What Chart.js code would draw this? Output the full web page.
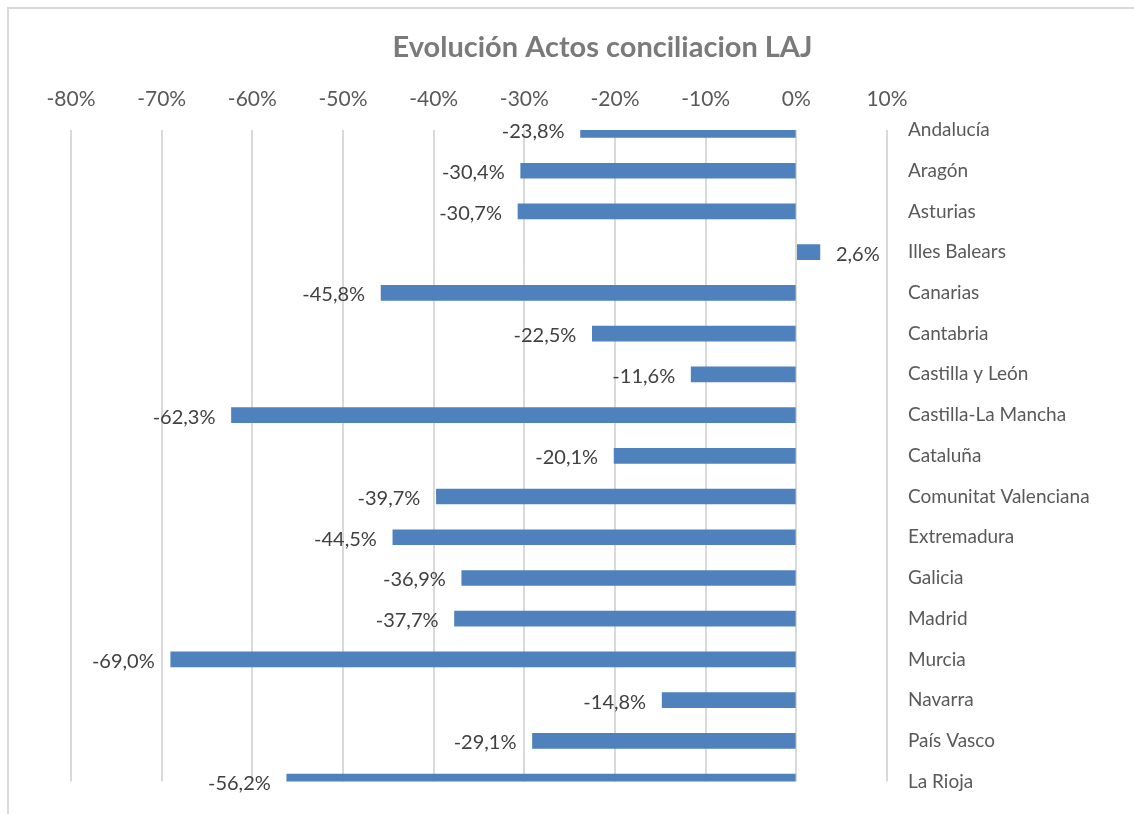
<!DOCTYPE html>
<html>
<head>
<meta charset="utf-8">
<script src="https://cdn.jsdelivr.net/npm/chart.js@4.4.1/dist/chart.umd.min.js"></script>
<style>
  html, body { margin: 0; padding: 0; background: #fff; }
  #wrap { position: relative; width: 1134px; height: 814px; }
  #marco { position: absolute; left: 7px; top: 7px; right: 0; bottom: 0;
           border-top: 2px solid #d9d9d9; border-left: 2px solid #d9d9d9; }
  canvas { position: absolute; left: 0; top: 0; }
</style>
</head>
<body>
<div id="wrap">
  <div id="marco"></div>
  <canvas id="grafico" width="1134" height="814"></canvas>
</div>
<script>
const comunidades = ['Andalucía', 'Aragón', 'Asturias', 'Illes Balears', 'Canarias', 'Cantabria',
  'Castilla y León', 'Castilla-La Mancha', 'Cataluña', 'Comunitat Valenciana', 'Extremadura',
  'Galicia', 'Madrid', 'Murcia', 'Navarra', 'País Vasco', 'La Rioja'];
const evolucion = [-23.8, -30.4, -30.7, 2.6, -45.8, -22.5, -11.6, -62.3, -20.1, -39.7, -44.5,
  -36.9, -37.7, -69.0, -14.8, -29.1, -56.2];
const ejeMin = -80;
const ejeMax = 10;
const ejePaso = 10;

const fuente = 'Lato, "Open Sans", sans-serif';

function formatoPct(v) {
  return v.toFixed(1).replace('.', ',') + '%';
}

// etiquetas de datos al final de cada barra
const etiquetasBarras = {
  id: 'etiquetasBarras',
  afterDatasetsDraw(chart) {
    const ctx = chart.ctx;
    const meta = chart.getDatasetMeta(0);
    ctx.save();
    ctx.font = '20px ' + fuente;
    ctx.fillStyle = '#404040';
    ctx.textBaseline = 'middle';
    meta.data.forEach((bar, i) => {
      const v = evolucion[i];
      const texto = formatoPct(v);
      if (v < 0) {
        ctx.textAlign = 'right';
        ctx.fillText(texto, bar.x - 16, bar.y + 2);
      } else {
        ctx.textAlign = 'left';
        ctx.fillText(texto, bar.x + 16, bar.y + 2);
      }
    });
    ctx.restore();
  }
};

new Chart(document.getElementById('grafico'), {
  type: 'bar',
  data: {
    labels: comunidades,
    datasets: [{
      data: evolucion,
      backgroundColor: '#4f81bd',
      barThickness: 15
    }]
  },
  options: {
    indexAxis: 'y',
    responsive: false,
    animation: false,
    layout: { padding: { left: 71, top: 14, right: 0, bottom: 24 } },
    plugins: {
      legend: { display: false },
      tooltip: { enabled: false },
      title: {
        display: true,
        text: 'Evolución Actos conciliacion LAJ',
        color: '#7a7a7a',
        font: { family: fuente, size: 29, weight: 'bold' },
        padding: { top: 16, bottom: 4 }
      }
    },
    scales: {
      x: {
        position: 'top',
        min: ejeMin,
        max: ejeMax,
        ticks: {
          stepSize: ejePaso,
          color: '#595959',
          font: { family: fuente, size: 21 },
          padding: 18,
          callback: v => v + '%'
        },
        grid: { color: '#d9d9d9', lineWidth: 2, drawTicks: false },
        border: { display: false }
      },
      y: {
        position: 'right',
        offset: false,
        ticks: {
          color: '#595959',
          font: { family: fuente, size: 19 },
          padding: 21
        },
        grid: { display: false, drawTicks: false },
        border: { display: false },
        afterFit(scale) { scale.width = 1134 - 887; }
      }
    }
  },
  plugins: [etiquetasBarras]
});
</script>
</body>
</html>
